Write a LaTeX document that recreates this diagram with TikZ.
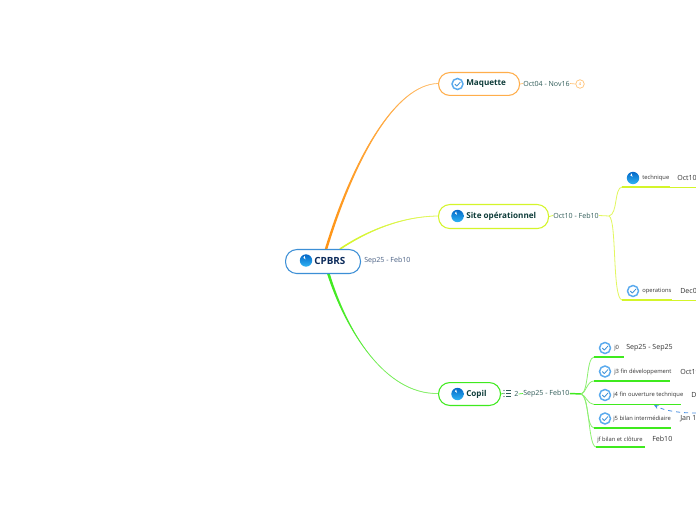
\documentclass[tikz,border=0pt]{standalone}
\usepackage{fontspec}
\setmainfont{Open Sans}
\usetikzlibrary{arrows.meta}
\definecolor{orgS}{HTML}{FF9414}
\definecolor{orgL}{HTML}{FFC070}
\definecolor{yelS}{HTML}{D4F52A}
\definecolor{yelL}{HTML}{E2F75E}
\definecolor{grnS}{HTML}{3FEA1E}
\definecolor{grnL}{HTML}{8CF070}
\definecolor{rootB}{HTML}{3C8FD6}
\definecolor{ringB}{HTML}{5AAAEE}
\definecolor{relB}{HTML}{4A90E2}
\definecolor{ballT}{HTML}{0568C8}
\definecolor{ballB}{HTML}{2FB4F4}
\definecolor{titleT}{HTML}{0F3D3A}
\definecolor{rootT}{HTML}{0B2A5A}
\definecolor{dateT}{HTML}{2F5B57}
\definecolor{subT}{HTML}{333333}
\tikzset{
  topic/.style={draw,line width=.8pt,fill=white,rounded corners=8.5pt,inner sep=0pt,anchor=north west},
  title/.style={font=\fontsize{6.1}{8}\selectfont\bfseries,text=titleT,anchor=west,inner sep=0pt},
  rdate/.style={font=\fontsize{5.3}{6}\selectfont,text=rootT!75,anchor=west,inner sep=0pt},
  tdate/.style={font=\fontsize{5.3}{6}\selectfont,text=dateT,anchor=west,inner sep=0pt},
  subname/.style={font=\fontsize{4.35}{5}\selectfont,text=subT,anchor=west,inner sep=0pt},
  subdate/.style={font=\fontsize{5.3}{6}\selectfont,text=subT,anchor=west,inner sep=0pt},
  checkicon/.pic={
    \fill[white] (0,0) circle (6.3);
    \draw[draw=ringB,line width=1.1pt] (0,0) circle (5.5);
    \draw[draw=rootB,line width=.6pt,line cap=round,line join=round] (-2.6,.2) -- (-.7,2.1) -- (2.8,-1.8);
  },
  globeicon/.pic={
    \shade[top color=ballT,bottom color=ballB] (0,0) circle (6.2);
    \fill[white] (-1.4,-4.6) -- (-.5,-1.2) -- (-2.6,-2.6) -- cycle;
  }
}
\begin{document}
\begin{tikzpicture}[x=.75pt,y=-.75pt]
\useasboundingbox (0,0) rectangle (696,520);
\fill[white] (0,0) rectangle (696,520);

\coordinate (cpN) at (326,249);
\coordinate (cpNE) at (340,249);
\coordinate (cpS) at (328,273);
\coordinate (mqW) at (438,83.5);
\coordinate (siW) at (438,216);
\coordinate (coW) at (438,393.5);

% main branches: a thin line with a taper from the root outwards
\draw[orgL,line width=.6pt] (cpN) .. controls (353,160.5) and (395,84.5) .. (mqW);
\shade[left color=orgS,right color=orgL]
   (324.8,249) .. controls (352,160) and (395,84) .. (mqW)
   .. controls (395,85) and (354,161) .. (327.4,249) -- cycle;
\draw[yelL,line width=.6pt] (cpNE) .. controls (365.5,232) and (400,216.5) .. (siW);
\shade[left color=yelS,right color=yelL]
   (339.4,248.4) .. controls (365,231.5) and (400,216) .. (siW)
   .. controls (400,217) and (366,232.5) .. (340.6,249.6) -- cycle;
\draw[grnL,line width=.6pt] (cpS) .. controls (346,330.5) and (385,394.5) .. (coW);
\shade[left color=grnS,right color=grnL]
   (326.8,273) .. controls (345,330) and (385,394) .. (coW)
   .. controls (385,395) and (347,331) .. (329.6,273) -- cycle;

% root
\node[topic,draw=rootB,minimum width=56.2pt,minimum height=18pt] (cpbrs) at (285,249) {};
\pic at (306,260.5) {globeicon};
\node[title,font=\fontsize{7.4}{9}\selectfont\bfseries,text=rootT] (cpbrsT) at (314,261) {CPBRS};
\node[rdate] (cpbrsD) at (364,260.5) {Sep25 - Feb10};

% Maquette
\node[topic,draw=orgL!60!orgS,minimum width=60.8pt,minimum height=17.2pt] (maq) at (438,72) {};
\pic at (457.5,84) {checkicon};
\node[title] (maqT) at (466,84) {Maquette};
\node[tdate] (maqD) at (523,83.5) {Oct04 - Nov16};
\node[circle,draw=orgL,line width=.5pt,fill=white,minimum size=6.4pt,inner sep=0pt,font=\fontsize{3}{3}\selectfont,text=orgS] (maqC) at (580,84) {4};
\draw[orgL,line width=.5pt] (maq.east) -- (maqD.west);
\draw[orgL,line width=.5pt] (maqD.east) -- (maqC.west);

% Site
\node[topic,draw=yelS,minimum width=82.5pt,minimum height=18pt] (site) at (438,204) {};
\pic at (457.5,216) {globeicon};
\node[title] (siteT) at (466,216) {Site opérationnel};
\node[tdate] (siteD) at (553,215.5) {Oct10 - Feb10};
\draw[yelS,line width=.5pt] (site.east) -- (siteD.west);
\coordinate (siteJ) at (609,216);
\draw[yelL,line width=.6pt] (siteD.east) -- (siteJ);
\node[inner sep=0pt] (tecL) at (622,187) {};
\node[inner sep=0pt] (opeL) at (622,300) {};
\draw[yelL,line width=.6pt] (siteJ) .. controls (618,214) and (614,188) .. (tecL.center);
\draw[yelL,line width=.6pt] (siteJ) .. controls (617,220) and (612,298) .. (opeL.center);
\coordinate (tecM) at (670,187);
\coordinate (tecE) at (696,187);
\coordinate (opeM) at (672,300);
\coordinate (opeE) at (696,300);
\draw[yelS,line width=1pt] (tecL.center) -- (tecM);
\draw[yelS,line width=.6pt] (tecM) -- (tecE);
\draw[yelS,line width=1pt] (opeL.center) -- (opeM);
\draw[yelS,line width=.6pt] (opeM) -- (opeE);
\pic at (633,178) {globeicon};
\pic at (633,291) {checkicon};
\node[subname] (tecT) at (642,178) {technique};
\node[subdate] (tecD) at (677,177.5) {Oct10};
\node[subname] (opeT) at (642,291) {operations};
\node[subdate] (opeD) at (680,290.5) {Dec0};

% Copil
\node[topic,draw=grnS,minimum width=46.5pt,minimum height=17.2pt] (copil) at (438,382) {};
\pic at (457.5,394) {globeicon};
\node[title] (copilT) at (466,394) {Copil};
\draw[grnS,line width=.5pt] (copil.east) -- (503,393.5);
\foreach \yy in {390.5,393.5,396.5}{
  \fill[dateT] (504,\yy) circle (.6);
  \draw[dateT,line width=.4pt] (506,\yy) -- (511,\yy);
}
\node[tdate] (copN) at (514,394) {2};
\node[tdate] (copD) at (523,393.5) {Sep25 - Feb10};
\draw[grnS,line width=.5pt] (copN.east) -- (copD.west);
\coordinate (copJ) at (581,394);
\draw[grnS,line width=1.1pt] (copD.east) -- (copJ);

\node[inner sep=0pt] (j0L) at (594,357) {};
\node[inner sep=0pt] (j3L) at (594,381) {};
\node[inner sep=0pt] (j4L) at (594,404.5) {};
\node[inner sep=0pt] (j5L) at (594,428) {};
\node[inner sep=0pt] (jfL) at (596,447) {};
\draw[grnL,line width=.6pt] (copJ) .. controls (589,392) and (586,358) .. (j0L.center);
\draw[grnL,line width=.6pt] (copJ) .. controls (586,393) and (587,381) .. (j3L.center);
\draw[grnL,line width=.6pt] (copJ) .. controls (586,395) and (587,404) .. (j4L.center);
\draw[grnL,line width=.6pt] (copJ) .. controls (589,396) and (586,427) .. (j5L.center);
\draw[grnL,line width=.6pt] (copJ) .. controls (590,397) and (588,446) .. (jfL.center);
\coordinate (j0E) at (624,357);
\coordinate (j3E) at (670,381);
\coordinate (j4E) at (681,404.5);
\coordinate (j5E) at (671,428);
\coordinate (jfE) at (645,447);
\draw[grnS,line width=1pt] (j0L.center) -- (j0E);
\draw[grnS,line width=1pt] (j3L.center) -- (j3E);
\draw[grnS,line width=1pt] (j4L.center) -- (j4E);
\draw[grnS,line width=1pt] (j5L.center) -- (j5E);
\draw[grnS,line width=1pt] (jfL.center) -- (jfE);
\pic at (605,348) {checkicon};
\pic at (605,371.5) {checkicon};
\pic at (605,395) {checkicon};
\pic at (605,418.5) {checkicon};
\node[subname] (j0T) at (614,348) {j0};
\node[subdate] (j0D) at (626,347.5) {Sep25 - Sep25};
\node[subname] (j3T) at (614,372) {j3 fin développement};
\node[subdate] (j3D) at (680,371.5) {Oct19};
\node[subname] (j4T) at (613,395) {j4 fin ouverture technique};
\node[subdate] (j4D) at (691,394.5) {D};
\node[subname] (j5T) at (613,418.5) {j5 bilan intermédiaire};
\node[subdate] (j5D) at (680,418.5) {Jan 1};
\node[subname] (jfT) at (597,440) {jf bilan et clôture};
\node[subdate] (jfD) at (652,439) {Feb10};

% dashed relation
\coordinate (relA) at (654,405);
\coordinate (relZ) at (696,413);
\draw[relB,line width=.6pt,dashed,-{Stealth[length=3.5pt,width=3pt]}] (relZ) .. controls (680,413) and (665,411) .. (relA);
\end{tikzpicture}
\end{document}
